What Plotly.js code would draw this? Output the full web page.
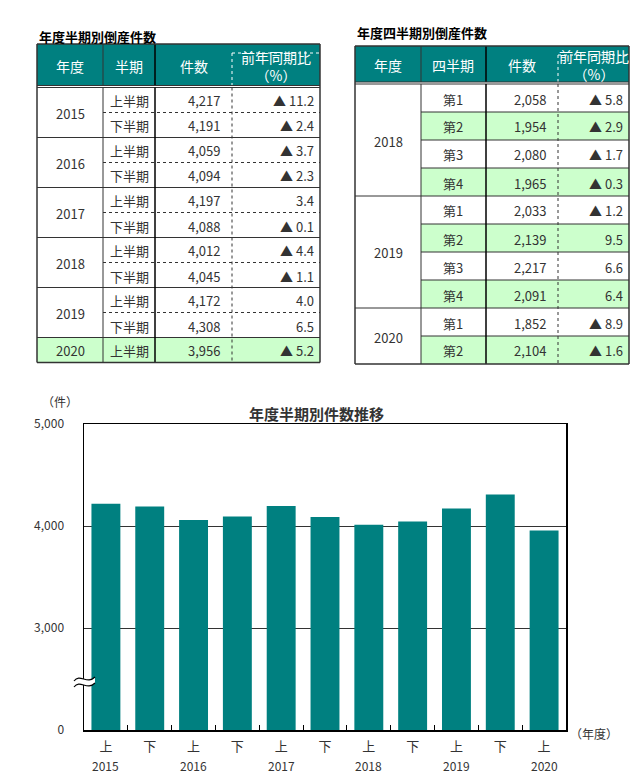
<!DOCTYPE html>
<html>
<head>
<meta charset="utf-8">
<script src="https://cdn.plot.ly/plotly-3.0.1.min.js"></script>
<style>html,body{margin:0;padding:0;background:#fff;}#chart{width:641px;height:780px;}</style>
</head>
<body>
<div id="chart"></div>
<script>
// ---------- DATA ----------
const halfTableTitle = "年度半期別倒産件数";
const halfHeaders = ["年度", "半期", "件数", "前年同期比<br>（%）"];
const halfYears = ["2015", "2016", "2017", "2018", "2019", "2020"];
const halfPeriods = ["上半期", "下半期", "上半期", "下半期", "上半期", "下半期", "上半期", "下半期", "上半期", "下半期", "上半期"];
const halfCounts = [4217, 4191, 4059, 4094, 4197, 4088, 4012, 4045, 4172, 4308, 3956];
const halfYoY = [-11.2, -2.4, -3.7, -2.3, 3.4, -0.1, -4.4, -1.1, 4.0, 6.5, -5.2];

const qTableTitle = "年度四半期別倒産件数";
const qHeaders = ["年度", "四半期", "件数", "前年同期比<br>（%）"];
const qYears = ["2018", "2019", "2020"];
const qPeriods = ["第1", "第2", "第3", "第4", "第1", "第2", "第3", "第4", "第1", "第2"];
const qCounts = [2058, 1954, 2080, 1965, 2033, 2139, 2217, 2091, 1852, 2104];
const qYoY = [-5.8, -2.9, -1.7, -0.3, -1.2, 9.5, 6.6, 6.4, -8.9, -1.6];

const chartTitle = "年度半期別件数推移";
const chartHalfShort = ["上", "下", "上", "下", "上", "下", "上", "下", "上", "下", "上"];
const chartYTickVals = [2000, 3000, 4000, 5000];
const chartYTickText = ["0", "3,000", "4,000", "5,000"];
const yUnit = "（件）";
const xUnit = "（年度）";

// ---------- HELPERS ----------
const W = 641, H = 780;
const X = x => x / W;
const Y = y => 1 - y / H;
const FONT = "'Noto Sans CJK JP', 'Noto Sans', sans-serif";
const TEXT = "#333333";
const TEAL = "#008080";
const GREEN = "#ccffcc";
const fmtCount = v => v.toLocaleString("en-US");
const fmtYoY = v => v < 0 ? "▲ " + Math.abs(v).toFixed(1) : v.toFixed(1);

const shapes = [];
const annotations = [];

function line(x0, y0, x1, y1, color, width, dash) {
  shapes.push({type: "line", xref: "paper", yref: "paper", x0: X(x0), y0: Y(y0), x1: X(x1), y1: Y(y1),
    line: {color: color, width: width, dash: dash || "solid"}, layer: "above"});
}
function rect(x0, y0, x1, y1, fill) {
  shapes.push({type: "rect", xref: "paper", yref: "paper", x0: X(x0), y0: Y(y0), x1: X(x1), y1: Y(y1),
    line: {width: 0}, fillcolor: fill, layer: "below"});
}
function text(t, x, y, anchor, opts) {
  opts = opts || {};
  annotations.push({text: t, xref: "paper", yref: "paper", x: X(x), y: Y(y), xanchor: anchor, yanchor: "middle",
    showarrow: false, font: {family: FONT, size: opts.size || 13, color: opts.color || TEXT, weight: opts.weight || "normal"}});
}

function buildTable(cfg) {
  const xs = cfg.xs;
  const hTop = cfg.hTop, hBot = cfg.hBot, r0 = cfg.r0, rh = cfg.rh;
  const nRows = cfg.periods.length;
  const bottom = r0 + rh * nRows;
  text(cfg.title, xs[0], cfg.titleY, "left", {size: 13, color: "#000", weight: "bold"});
  rect(xs[0], hTop, xs[4], hBot, TEAL);
  for (let i = 0; i < nRows; i++) {
    const all = cfg.greenAll && cfg.greenAll(i);
    if (all || (cfg.green && cfg.green(i))) {
      rect(xs[all ? 0 : 1], r0 + rh * i, xs[4], r0 + rh * (i + 1), GREEN);
    }
  }
  cfg.headers.forEach((h, c) => {
    text(h, (xs[c] + xs[c + 1]) / 2, (hTop + hBot) / 2 + 1, "center", {size: 14, color: "#fff"});
  });
  line(xs[3], hTop + 9, xs[4], hTop + 9, "#ffffff", 1, "dot");
  line(xs[3], hTop + 9, xs[3], hBot, "#ffffff", 1, "dot");
  line(xs[1], hTop, xs[1], hBot, "#333", 1);
  line(xs[2], hTop, xs[2], hBot, "#000", 1.5);
  line(xs[0], hBot, xs[4], hBot, "#333", 1);
  line(xs[0], r0, xs[4], r0, "#333", 1);
  let idx = 0;
  cfg.years.forEach((yr, g) => {
    const n = cfg.groupSize[g];
    const gTop = r0 + rh * idx, gBot = r0 + rh * (idx + n);
    text(yr, (xs[0] + xs[1]) / 2, (gTop + gBot) / 2 + 1, "center");
    for (let k = 0; k < n; k++) {
      const i = idx + k;
      const yc = r0 + rh * i + rh / 2 + 1;
      text(cfg.periods[i], (xs[1] + xs[2]) / 2, yc, "center");
      text(fmtCount(cfg.counts[i]), xs[3] - cfg.padCount, yc, "right");
      text(fmtYoY(cfg.yoy[i]), xs[4] - cfg.padYoY, yc, "right");
      if (k < n - 1) {
        const yl = r0 + rh * (i + 1);
        line(xs[1], yl, xs[4], yl, "#333", 1, cfg.innerDash);
      }
    }
    if (g < cfg.years.length - 1) line(xs[0], gBot, xs[4], gBot, "#333", 1);
    idx += n;
  });
  line(xs[1], r0, xs[1], bottom, "#333", 1);
  line(xs[2], r0, xs[2], bottom, "#000", 1.5);
  line(xs[3], r0, xs[3], bottom, "#333", 1, "dot");
  line(xs[0], hTop, xs[4], hTop, "#333", 1.5);
  line(xs[0], bottom, xs[4], bottom, "#333", 1.5);
  line(xs[0], hTop, xs[0], bottom, "#333", 1.5);
  line(xs[4], hTop, xs[4], bottom, "#333", 1.5);
}

function groupSizes(periods, firstLabel) {
  const sizes = [];
  periods.forEach(p => { if (p === firstLabel) sizes.push(1); else sizes[sizes.length - 1]++; });
  return sizes;
}

buildTable({
  title: halfTableTitle, headers: halfHeaders, years: halfYears, periods: halfPeriods,
  counts: halfCounts, yoy: halfYoY, groupSize: groupSizes(halfPeriods, "上半期"),
  xs: [37, 103, 155, 232, 320], hTop: 44, hBot: 85.5, r0: 87.5, rh: 25, titleY: 36,
  innerDash: "dot", padCount: 10, padYoY: 4,
  greenAll: i => i === halfPeriods.length - 1
});

buildTable({
  title: qTableTitle, headers: qHeaders, years: qYears, periods: qPeriods,
  counts: qCounts, yoy: qYoY, groupSize: groupSizes(qPeriods, "第1"),
  xs: [355, 421, 486, 558, 629], hTop: 46, hBot: 82, r0: 84, rh: 28, titleY: 33,
  innerDash: "solid", padCount: 10, padYoY: 4,
  green: i => qPeriods[i] === "第2" || qPeriods[i] === "第4"
});

// ---------- CHART ----------
const chartYears = chartHalfShort.map((h, i) => halfYears[Math.floor(i / 2)]);
const xCats = chartHalfShort.map((h, i) => chartYears[i] + h);

// year labels under the 上 bars, placed on the category axis
chartHalfShort.forEach((h, i) => {
  if (h === "上") {
    annotations.push({text: chartYears[i], xref: "x", yref: "paper", x: xCats[i], y: Y(765),
      xanchor: "center", yanchor: "middle", showarrow: false,
      font: {family: FONT, size: 12, color: TEXT}});
  }
});

const P = (x, y) => X(x) + "," + Y(y);
const bx = 84, by = 682;
shapes.push({type: "path", xref: "paper", yref: "paper", layer: "above",
  path: "M" + P(bx - 10, by - 1) + " C" + P(bx - 4, by - 9) + " " + P(bx + 3, by + 3) + " " + P(bx + 11, by - 5) +
        " L" + P(bx + 11, by + 1) + " C" + P(bx + 3, by + 9) + " " + P(bx - 4, by - 3) + " " + P(bx - 10, by + 5) + " Z",
  fillcolor: "#ffffff", line: {width: 0}});
shapes.push({type: "path", xref: "paper", yref: "paper", layer: "above",
  path: "M" + P(bx - 10, by - 1) + " C" + P(bx - 4, by - 9) + " " + P(bx + 3, by + 3) + " " + P(bx + 11, by - 5),
  line: {color: "#000", width: 1.2}});
shapes.push({type: "path", xref: "paper", yref: "paper", layer: "above",
  path: "M" + P(bx - 10, by + 5) + " C" + P(bx - 4, by - 3) + " " + P(bx + 3, by + 9) + " " + P(bx + 11, by + 1),
  line: {color: "#000", width: 1.2}});

text(chartTitle, 316, 413, "center", {size: 15, color: TEXT, weight: "bold"});
text(yUnit, 60, 402, "center", {size: 12, color: TEXT});
text(xUnit, 568, 733, "left", {size: 12, color: TEXT});

const trace = {
  type: "bar", x: xCats, y: halfCounts,
  marker: {color: TEAL, line: {width: 0}},
  hoverinfo: "x+y"
};

const layout = {
  width: W, height: H, margin: {l: 0, r: 0, t: 0, b: 0},
  paper_bgcolor: "#fff", plot_bgcolor: "#fff",
  showlegend: false, bargap: 0.34,
  font: {family: FONT, color: TEXT, size: 12},
  xaxis: {
    domain: [X(84), X(566)], type: "category",
    tickvals: xCats, ticktext: chartHalfShort,
    ticks: "inside", tickson: "boundaries", ticklen: 5, tickcolor: "#000",
    showline: true, linecolor: "#000", linewidth: 1.5, mirror: true,
    showgrid: false, ticklabelstandoff: 4,
    tickfont: {size: 13, color: TEXT}, fixedrange: true
  },
  yaxis: {
    domain: [Y(730), Y(424)], range: [2000, 5000],
    tickvals: chartYTickVals, ticktext: chartYTickText,
    showline: true, linecolor: "#000", linewidth: 1.5, mirror: true,
    showgrid: true, gridcolor: "#333", gridwidth: 1, zeroline: false,
    ticks: "", ticklabelstandoff: 16,
    tickfont: {size: 12, color: TEXT}, fixedrange: true
  },
  shapes: shapes, annotations: annotations
};

Plotly.newPlot("chart", [trace], layout, {displayModeBar: false, staticPlot: true});
</script>
</body>
</html>
